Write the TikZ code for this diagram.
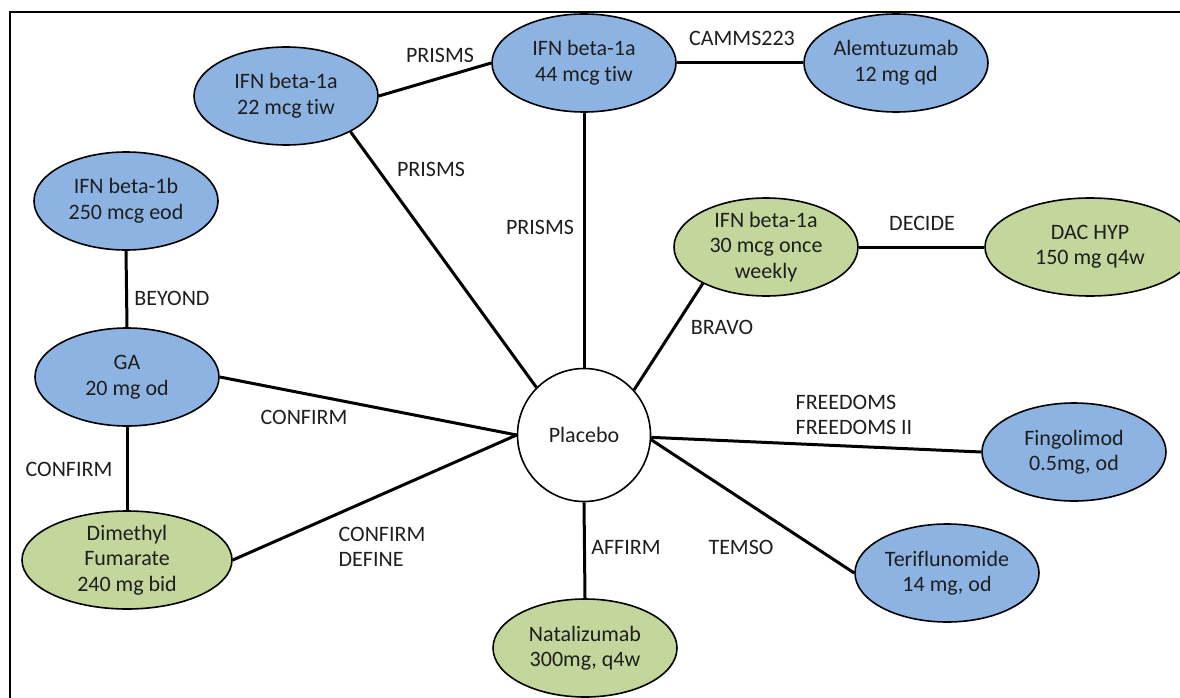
\documentclass[tikz,border=0pt]{standalone}
\usepackage{fontspec}
\setmainfont[Ligatures=NoCommon]{Carlito}
\usetikzlibrary{shapes.geometric}

\definecolor{drugblue}{HTML}{8DB3E2}
\definecolor{druggreen}{HTML}{C3D69B}
\definecolor{labelgray}{HTML}{1E1E1E}

\begin{document}
\begin{tikzpicture}[x=1pt, y=-1pt,
    every node/.style={font=\fontsize{22}{25.5}\selectfont, text=labelgray},
    drug/.style={ellipse, draw=black, line width=1.6pt, inner sep=-8pt,
      minimum width=184pt, minimum height=98pt, align=center},
    bluedrug/.style={drug, fill=drugblue},
    greendrug/.style={drug, fill=druggreen},
    trial/.style={inner sep=1pt, align=left},
    link/.style={line width=3pt}]
  \useasboundingbox (0,0) rectangle (1180,698);

  % Frame
  \draw[line width=1.6pt] (10,698) -- (10,12) -- (1180,12);

  % Treatments
  \node[bluedrug] (ifn22) at (286,96) {IFN beta-1a\\22 mcg tiw};
  \node[bluedrug] (ifn44) at (584,63) {IFN beta-1a\\44 mcg tiw};
  \node[bluedrug] (alem) at (896,63) {Alemtuzumab\\12 mg qd};
  \node[bluedrug] (ifn1b) at (126,201) {IFN beta-1b\\250 mcg eod};
  \node[bluedrug] (ga) at (127,377) {GA\\20 mg od};
  \node[greendrug, minimum width=210pt] (dmf) at (127,560) {Dimethyl\\Fumarate\\240 mg bid};
  \node[greendrug] (nat) at (585,648) {Natalizumab\\300mg, q4w};
  \node[greendrug] (ifn30) at (766,247) {IFN beta-1a\\30 mcg once\\weekly};
  \node[greendrug, minimum width=210pt] (dac) at (1090,247) {DAC HYP\\150 mg q4w};
  \node[bluedrug] (fingo) at (1074,452) {Fingolimod\\0.5mg, od};
  \node[bluedrug] (teri) at (947,573) {Teriflunomide\\14 mg, od};

  % Placebo
  \node[circle, draw=black, line width=1.6pt, fill=white, minimum size=133pt] (plc) at (584,435) {Placebo};

  % Comparisons
  \draw[link] (ifn22.east) -- (ifn44.west);
  \draw[link] (ifn44.east) -- (alem.west);
  \draw[link] (ifn22.-29) -- (plc.135);
  \draw[link] (ifn44.south) -- (plc.north);
  \draw[link] (ifn1b.south) -- (ga.north);
  \draw[link] (ga.south) -- (dmf.north);
  \draw[link] (ga.east) -- (plc.west);
  \draw[link] (dmf.east) -- (plc.west);
  \draw[link] (plc.south) -- (nat.north);
  \draw[link] (ifn30.210) -- (plc.42);
  \draw[link] (ifn30.east) -- (dac.west);
  \draw[link] (plc.-2) -- (fingo.west);
  \draw[link] (plc.-4) -- (teri.west);

  % Trial names
  \node[trial] (prisma) at (440,55) {PRISMS};
  \node[trial] (camms) at (742,38) {CAMMS223};
  \node[trial] (prismb) at (431,169) {PRISMS};
  \node[trial] (prismc) at (540,227) {PRISMS};
  \node[trial] (beyond) at (172,298) {BEYOND};
  \node[trial] (confirma) at (304,417) {CONFIRM};
  \node[trial] (confirmb) at (69,469) {CONFIRM};
  \node[trial] (define) at (382,547) {CONFIRM\\DEFINE};
  \node[trial] (affirm) at (626,547) {AFFIRM};
  \node[trial] (bravo) at (722,327) {BRAVO};
  \node[trial] (decide) at (922,223) {DECIDE};
  \node[trial] (freedoms) at (854,415) {FREEDOMS\\FREEDOMS II};
  \node[trial] (temso) at (741,547) {TEMSO};
\end{tikzpicture}
\end{document}
